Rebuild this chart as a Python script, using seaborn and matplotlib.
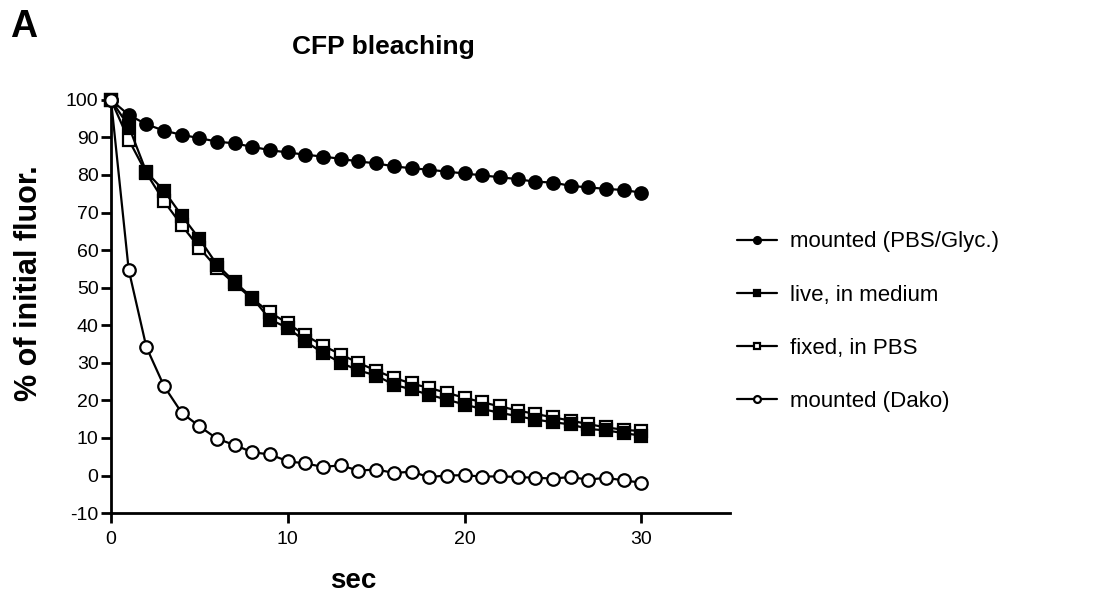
import matplotlib
matplotlib.use("Agg")
import matplotlib.pyplot as plt
import seaborn as sns
import numpy as np
import pandas as pd

time_sec = list(range(0, 31))

mounted_pbs_glyc = [100, 96.0, 93.5, 91.8, 90.7, 89.8, 88.9, 88.4, 87.5, 86.6, 86.0,
                    85.4, 84.9, 84.3, 83.6, 83.1, 82.3, 81.8, 81.4, 80.9, 80.4,
                    79.9, 79.4, 78.9, 78.2, 78.0, 77.1, 76.7, 76.3, 76.0, 75.3]
live_in_medium = [100, 93.0, 80.8, 75.8, 69.2, 63.0, 56.1, 51.5, 47.3, 41.5, 39.3,
                  35.7, 32.6, 30.0, 28.0, 26.6, 24.2, 22.9, 21.5, 20.2, 18.9,
                  17.7, 16.7, 15.8, 14.9, 14.2, 13.6, 12.4, 12.0, 11.3, 10.6]
fixed_in_pbs = [100, 89.4, 80.5, 73.0, 66.6, 60.6, 55.2, 51.0, 47.0, 43.4, 40.5,
                37.3, 34.6, 32.2, 30.0, 27.9, 26.0, 24.5, 23.3, 22.0, 20.7,
                19.5, 18.4, 17.3, 16.4, 15.5, 14.6, 13.7, 12.8, 12.2, 11.8]
mounted_dako = [100, 54.8, 34.2, 23.8, 16.7, 13.1, 9.8, 8.1, 6.2, 5.6, 3.8,
                3.2, 2.3, 2.7, 1.3, 1.6, 0.7, 1.0, -0.4, 0.0, 0.1,
                -0.3, -0.2, -0.4, -0.6, -0.8, -0.4, -1.1, -0.6, -1.3, -1.9]

series_labels = ["mounted (PBS/Glyc.)", "live, in medium", "fixed, in PBS", "mounted (Dako)"]
x_ticks = [0, 10, 20, 30]
y_ticks = list(range(-10, 101, 10))

sns.set_theme(style="ticks")
plt.rcParams["font.family"] = ["Liberation Sans", "DejaVu Sans"]
plt.rcParams["axes.unicode_minus"] = False
plt.rcParams["text.color"] = "black"
plt.rcParams["axes.labelcolor"] = "black"

fig = plt.figure(figsize=(10.99, 5.98), dpi=100)
ax = fig.add_axes([0.101, 0.142, 0.563, 0.691])

lw = 1.6
ms = 9
common = dict(color="black", linewidth=lw, markersize=ms, clip_on=False,
              markeredgecolor="black", markeredgewidth=1.6)

sns.lineplot(x=time_sec, y=mounted_pbs_glyc, marker="o", markerfacecolor="black",
             label=series_labels[0], ax=ax, zorder=3, **common)
sns.lineplot(x=time_sec, y=fixed_in_pbs, marker="s", markerfacecolor="white",
             label=series_labels[2], ax=ax, zorder=4, **common)
sns.lineplot(x=time_sec, y=live_in_medium, marker="s", markerfacecolor="black",
             label=series_labels[1], ax=ax, zorder=5, **common)
sns.lineplot(x=time_sec, y=mounted_dako, marker="o", markerfacecolor="white",
             label=series_labels[3], ax=ax, zorder=6, **common)

ax.set_xlim(0, 35)
ax.set_ylim(-10, 100)
ax.set_xticks(x_ticks)
ax.set_yticks(y_ticks)
ax.tick_params(axis="both", direction="out", length=7, width=2, labelsize=14, color="black",
               labelcolor="black")
ax.tick_params(axis="x", pad=6)
ax.tick_params(axis="y", pad=2)
for s in ["top", "right"]:
    ax.spines[s].set_visible(False)
for s in ["left", "bottom"]:
    ax.spines[s].set_linewidth(2)
    ax.spines[s].set_color("black")

ax.set_xlabel("sec", fontsize=20, fontweight="bold")
ax.xaxis.set_label_coords(0.392, -0.133)
ax.set_ylabel("% of initial fluor.", fontsize=22, fontweight="bold")
ax.yaxis.set_label_coords(-0.108, 0.557)
ax.set_title("CFP bleaching", fontsize=19, fontweight="bold", x=0.44, pad=33)

handles, labels = ax.get_legend_handles_labels()
order = [labels.index(l) for l in series_labels]
ax.get_legend().remove()
leg = fig.legend([handles[i] for i in order], [labels[i] for i in order],
                 loc="center left", bbox_to_anchor=(0.652, 0.462), frameon=False,
                 fontsize=16, markerscale=0.55, handlelength=1.8, handletextpad=0.6,
                 labelspacing=1.45)

fig.text(0.009, 0.955, "A", fontsize=27, fontweight="bold", ha="left", va="center")

fig.savefig("out.png", dpi=100)
